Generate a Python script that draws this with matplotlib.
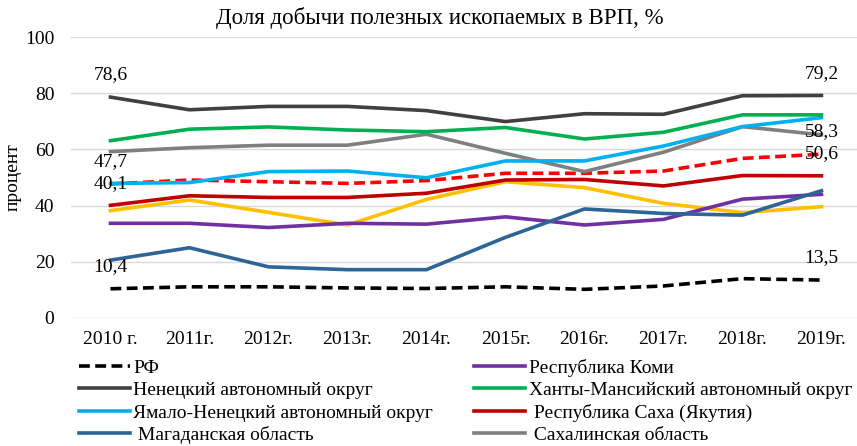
import matplotlib
matplotlib.use("Agg")
import matplotlib.pyplot as plt

plt.rcParams['font.family'] = ['Liberation Serif', 'DejaVu Serif']

years = ['2010 г.', '2011г.', '2012г.', '2013г.', '2014г.',
         '2015г.', '2016г.', '2017г.', '2018г.', '2019г.']

rf = [10.4, 11.1, 11.1, 10.7, 10.5, 11.1, 10.2, 11.4, 14.0, 13.5]
komi = [33.7, 33.7, 32.2, 33.7, 33.4, 36.0, 33.1, 35.1, 42.3, 44.0]
nenets = [78.6, 74.1, 75.3, 75.3, 73.8, 69.9, 72.7, 72.5, 79.1, 79.2]
khanty = [63.1, 67.2, 68.0, 66.9, 66.3, 67.8, 63.7, 66.1, 72.3, 72.3]
yamal = [47.9, 48.2, 52.1, 52.3, 49.9, 55.9, 55.9, 61.2, 68.1, 71.3]
sakha = [40.1, 43.5, 42.9, 42.9, 44.4, 49.1, 49.3, 47.0, 50.7, 50.6]
magadan = [20.6, 25.0, 18.2, 17.2, 17.2, 28.7, 38.8, 37.2, 36.6, 45.3]
sakhalin = [59.2, 60.6, 61.5, 61.5, 65.4, 58.6, 52.1, 59.0, 68.1, 65.2]
red_dash = [47.7, 49.1, 48.5, 47.9, 48.9, 51.5, 51.5, 52.3, 56.8, 58.3]
yellow = [38.2, 42.0, 37.6, 33.1, 42.2, 48.5, 46.4, 40.8, 37.5, 39.6]

fig = plt.figure(figsize=(8.57, 4.46), dpi=100)
ax = fig.add_axes([71/857, 1 - 318/446, 786/857, 281/446])
x = range(len(years))
lw = 2.6

# these two have no legend entry in the original
ax.plot(x, yellow, color='#FFC000', lw=lw)
ax.plot(x, red_dash, color='#FF0000', lw=lw, ls=(0, (3, 1.5)))

h_komi, = ax.plot(x, komi, color='#7030A0', lw=lw, label='Республика Коми')
h_magadan, = ax.plot(x, magadan, color='#2F6497', lw=lw, label=' Магаданская область')
h_sakhalin, = ax.plot(x, sakhalin, color='#7F7F7F', lw=lw, label=' Сахалинская область')
h_yamal, = ax.plot(x, yamal, color='#00B0F0', lw=lw, label='Ямало-Ненецкий автономный округ')
h_sakha, = ax.plot(x, sakha, color='#C00000', lw=lw, label=' Республика Саха (Якутия)')
h_khanty, = ax.plot(x, khanty, color='#00B050', lw=lw, label='Ханты-Мансийский автономный округ')
h_nenets, = ax.plot(x, nenets, color='#404040', lw=lw, label='Ненецкий автономный округ')
h_rf, = ax.plot(x, rf, color='black', lw=lw, ls=(0, (3, 1.5)), label='РФ')

for series in (nenets, red_dash, sakha, rf):
    for i in (0, len(years) - 1):
        ax.annotate(f'{series[i]:.1f}'.replace('.', ','), (i, series[i]),
                    xytext=(0, 16), textcoords='offset points',
                    ha='center', va='center', fontsize=14)

ax.set_ylim(0, 100)
ax.set_xlim(-0.5, 9.45)
ax.set_yticks(range(0, 101, 20))
ax.set_xticks(list(x))
ax.set_xticklabels(years)
ax.grid(axis='y', color='#D9D9D9', lw=1)
ax.set_axisbelow(True)
for s in ax.spines.values():
    s.set_visible(False)
ax.tick_params(length=0, labelsize=14)
ax.tick_params(axis='y', pad=12)
ax.tick_params(axis='x', pad=9)
ax.set_ylabel('процент', fontsize=14, labelpad=2)

fig.text(440/857, 1 - 18/446, 'Доля добычи полезных ископаемых в ВРП, %',
         ha='center', va='center', fontsize=16.5)

handles = [h_rf, h_nenets, h_yamal, h_magadan, h_komi, h_khanty, h_sakha, h_sakhalin]
fig.legend(handles=handles, labels=[h.get_label() for h in handles],
           ncol=2, loc='upper left', bbox_to_anchor=(79/857, 1 - 359/446),
           frameon=False, fontsize=14, handlelength=2.6, handletextpad=0.2,
           labelspacing=0.24, columnspacing=2.1, borderpad=0, borderaxespad=0)

fig.savefig('out.png', dpi=100)
